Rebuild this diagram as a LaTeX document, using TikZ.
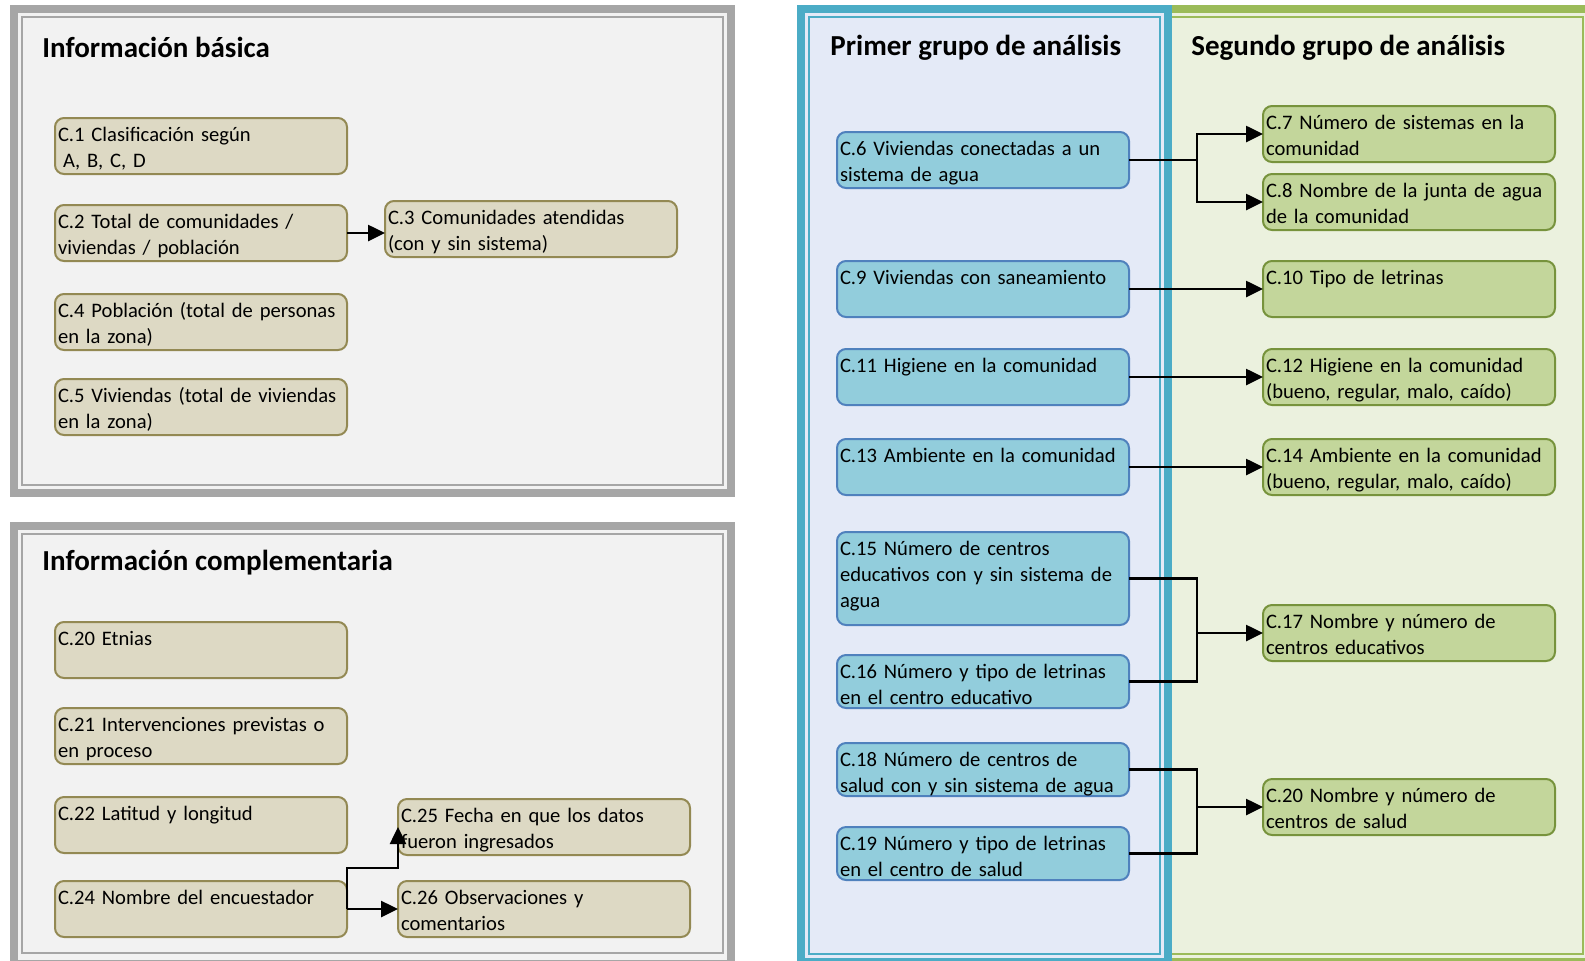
\documentclass[tikz,border=0pt]{standalone}
\usepackage{fontspec}
\setmainfont{Carlito}
\usetikzlibrary{positioning}
\usetikzlibrary{arrows.meta}
\usetikzlibrary{calc}
\definecolor{framegray}{HTML}{A6A6A6}
\definecolor{panelgray}{HTML}{F2F2F2}
\definecolor{frameblue}{HTML}{4BACC6}
\definecolor{panelblue}{HTML}{E4EAF7}
\definecolor{framegreen}{HTML}{9BBB59}
\definecolor{panelgreen}{HTML}{EBF1DE}
\definecolor{tanfill}{HTML}{DDD9C4}
\definecolor{tanline}{HTML}{938953}
\definecolor{bluefill}{HTML}{92CDDC}
\definecolor{blueline}{HTML}{4F81BD}
\definecolor{greenfill}{HTML}{C3D69B}
\definecolor{greenline}{HTML}{77933C}

\begin{document}
\begin{tikzpicture}[
		x=0.5pt, y=-0.5pt,
		% Box styles
		infobox/.style={draw=tanline, fill=tanfill, line width=1pt, rounded corners=4.5pt, text width=143pt, inner xsep=1.5pt, inner ysep=2pt, outer sep=0pt, text height=9.5pt, text depth=14.5pt, align=left, font=\fontsize{10.3}{13}\selectfont},
		bluebox/.style={infobox, draw=blueline, fill=bluefill},
		greenbox/.style={infobox, draw=greenline, fill=greenfill},
		title/.style={anchor=west, inner sep=0pt, font=\fontsize{14.5}{17}\selectfont\bfseries},
		arrow/.style={-{Triangle[length=8.5pt, width=8pt]}, line width=1.3pt},
		link/.style={line width=1.3pt},
		]
		\useasboundingbox (0,0) rectangle (1585,960);

		% Panels
		\fill[framegray] (10,5) rectangle (735,497);
		\fill[panelgray] (18,13) rectangle (727,489);
		\draw[framegray, line width=1pt] (22,17) rectangle (723,485);
		\fill[framegray] (10,522) rectangle (735,968);
		\fill[panelgray] (18,530) rectangle (727,960);
		\draw[framegray, line width=1pt] (22,534) rectangle (723,953);
		\fill[framegreen] (1155,5) rectangle (1595,966);
		\fill[panelgreen] (1163,13) rectangle (1587,958);
		\draw[framegreen, line width=1pt] (1167,17) rectangle (1583,954);
		\fill[frameblue] (797,5) rectangle (1172,966);
		\fill[panelblue] (805,13) rectangle (1164,958);
		\draw[frameblue, line width=1pt] (809,17) rectangle (1160,954);

		% Titles
		\node[title] (basica) at (42,47) {Información básica};
		\node[title] (complementaria) at (42,563) {Información complementaria};
		\node[title] (primer) at (830,48) {Primer grupo de análisis};
		\node[title] (segundo) at (1191,48) {Segundo grupo de análisis};

		% Basic information
		\node[infobox, anchor=north west] (c1) at (55,118) {C.1 Clasificación según\\\hspace{0.25em}A, B, C, D};
		\node[infobox, below=15.5pt of c1] (c2) {C.2 Total de comunidades /\\viviendas / población};
		\node[infobox, right=19pt of c2, yshift=2pt] (c3) {C.3 Comunidades atendidas\\(con y sin sistema)};
		\node[infobox, below=16.5pt of c2] (c4) {C.4 Población (total de personas\\en la zona)};
		\node[infobox, below=14.5pt of c4] (c5) {C.5 Viviendas (total de viviendas\\en la zona)};

		% Complementary information
		\node[infobox, anchor=north west] (c20) at (55,622) {C.20 Etnias};
		\node[infobox, below=15pt of c20] (c21) {C.21 Intervenciones previstas o\\en proceso};
		\node[infobox, below=16.5pt of c21] (c22) {C.22 Latitud y longitud};
		\node[infobox, below=14pt of c22] (c24) {C.24 Nombre del encuestador};
		\node[infobox, right=25.5pt of c24] (c26) {C.26 Observaciones y\\comentarios};
		\node[infobox, above=13pt of c26] (c25) {C.25 Fecha en que los datos\\fueron ingresados};

		% First group
		\node[bluebox, anchor=north west] (c6) at (837,132) {C.6 Viviendas conectadas a un\\sistema de agua};
		\node[bluebox, below=36.5pt of c6] (c9) {C.9 Viviendas con saneamiento};
		\node[bluebox, below=16pt of c9] (c11) {C.11 Higiene en la comunidad};
		\node[bluebox, below=17pt of c11] (c13) {C.13 Ambiente en la comunidad};
		\node[bluebox, below=18.5pt of c13, text depth=33pt] (c15) {C.15 Número de centros\\educativos con y sin sistema de\\agua};
		\node[bluebox, below=15pt of c15, text depth=13pt] (c16) {C.16 Número y tipo de letrinas\\en el centro educativo};
		\node[bluebox, below=17.5pt of c16, text depth=13pt] (c18) {C.18 Número de centros de\\salud con y sin sistema de agua};
		\node[bluebox, below=15.5pt of c18, text depth=13pt] (c19) {C.19 Número y tipo de letrinas\\en el centro de salud};

		% Second group
		\node[greenbox, anchor=north west] (c7) at (1263,106) {C.7 Número de sistemas en la\\comunidad};
		\node[greenbox, below=6pt of c7] (c8) {C.8 Nombre de la junta de agua\\de la comunidad};
		\node[greenbox, right=67pt of c9] (c10) {C.10 Tipo de letrinas};
		\node[greenbox, right=67pt of c11] (c12) {C.12 Higiene en la comunidad\\(bueno, regular, malo, caído)};
		\node[greenbox, right=67pt of c13] (c14) {C.14 Ambiente en la comunidad\\(bueno, regular, malo, caído)};
		\node[greenbox, anchor=north west] (c17) at (1263,605) {C.17 Nombre y número de\\centros educativos};
		\node[greenbox, anchor=north west] (c20s) at (1263,779) {C.20 Nombre y número de\\centros de salud};

		% Connectors
		\draw[arrow] (c2.east) -- (c2.east -| c3.west);
		\draw[arrow] (c24.east) -- ++(0,20.5pt) -| (c25.west);
		\draw[arrow] (c24.east) -- (c26.west);

		\draw[arrow] (c6.east) -- ++(34pt,0) |- (c7.west);
		\draw[arrow] (c6.east) -- ++(34pt,0) |- (c8.west);
		\draw[arrow] (c9.east) -- (c10.west);
		\draw[arrow] (c11.east) -- (c12.west);
		\draw[arrow] (c13.east) -- (c14.west);

		\coordinate (edu) at ($(c15.east)+(34pt,0)$);
		\draw[link] (c15.east) -- (edu) |- (c16.east);
		\draw[arrow] (edu |- c17.west) -- (c17.west);

		\coordinate (salud) at ($(c18.east)+(34pt,0)$);
		\draw[link] (c18.east) -- (salud) |- (c19.east);
		\draw[arrow] (salud |- c20s.west) -- (c20s.west);

	\end{tikzpicture}
\end{document}
